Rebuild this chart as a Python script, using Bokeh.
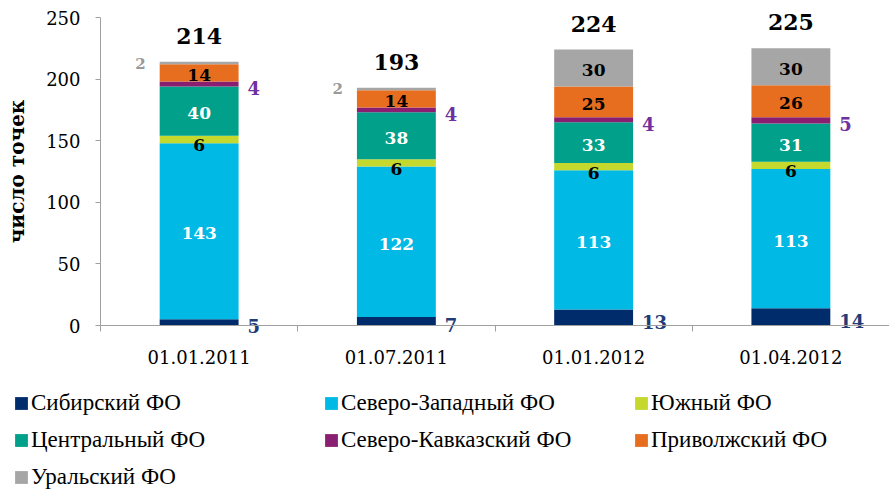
from bokeh.plotting import figure
from bokeh.models import ColumnDataSource, FixedTicker, Legend, LegendItem, Range1d
from bokeh.core.properties import value
from bokeh.embed import file_html
from bokeh.resources import INLINE

dates = ["01.01.2011", "01.07.2011", "01.01.2012", "01.04.2012"]
regions = ["Сибирский ФО", "Северо-Западный ФО", "Южный ФО", "Центральный ФО",
           "Северо-Кавказский ФО", "Приволжский ФО", "Уральский ФО"]
sib = [5, 7, 13, 14]
szfo = [143, 122, 113, 113]
yug = [6, 6, 6, 6]
cfo = [40, 38, 33, 31]
skfo = [4, 4, 4, 5]
pfo = [14, 14, 25, 26]
ural = [2, 2, 30, 30]
y_ticks = [0, 50, 100, 150, 200, 250]

series = [sib, szfo, yug, cfo, skfo, pfo, ural]
keys = ["sib", "szfo", "yug", "cfo", "skfo", "pfo", "ural"]
colors = ["#002C6B", "#00B9E4", "#C4D82E", "#00A08A", "#8A1F72", "#E86E1F", "#A6A6A6"]
inside_colors = [None, "white", "black", "white", None, "black", "black"]

xs = [i + 0.5 for i in range(len(dates))]
BAR_W = 0.4

data = {"x": xs}
for k, s in zip(keys, series):
    data[k] = s
src = ColumnDataSource(data)

# the frame spans the whole canvas; axes are pinned at x=0 / y=0
p = figure(width=889, height=490, output_backend="svg", toolbar_location=None,
           x_range=Range1d(-0.507, 4.0), y_range=Range1d(-133.9, 263.8),
           min_border_left=0, min_border_top=0, min_border_right=0, min_border_bottom=0)
p.outline_line_color = None
p.xgrid.visible = False
p.ygrid.visible = False

rends = p.vbar_stack(keys, x="x", width=BAR_W, color=colors, line_color=None, source=src)

# labels
in_x, in_y, in_t, in_c = [], [], [], []
s_x, s_y, s_t = [], [], []
r_x, r_y, r_t, r_c = [], [], [], []
l_x, l_y, l_t = [], [], []
for j, x in enumerate(xs):
    base = 0
    for i, s in enumerate(series):
        v = s[j]
        mid = base + v / 2
        if i == 0:
            r_x.append(x + BAR_W / 2); r_y.append(mid); r_t.append(str(v)); r_c.append("#1F3C78")
        elif i == 4:
            r_x.append(x + BAR_W / 2); r_y.append(mid); r_t.append(str(v)); r_c.append("#7030A0")
        elif i == 6 and v < 10:
            l_x.append(x - BAR_W / 2); l_y.append(mid); l_t.append(str(v))
        elif i == 2:
            s_x.append(x); s_y.append(mid); s_t.append(str(v))
        else:
            in_x.append(x); in_y.append(mid); in_t.append(str(v)); in_c.append(inside_colors[i])
        base += v

totals = [sum(s[j] for s in series) for j in range(len(dates))]

font = value("DejaVu Serif")
p.text(x=in_x, y=in_y, text=in_t, text_color=in_c, text_font=font, text_font_style="bold",
       text_font_size="17px", text_align="center", text_baseline="middle", y_offset=2)
p.text(x=s_x, y=s_y, text=s_t, text_color="black", text_font=font, text_font_style="bold",
       text_font_size="17px", text_align="center", text_baseline="middle", y_offset=6)
p.text(x=r_x, y=r_y, text=r_t, text_color=r_c, text_font=font, text_font_style="bold",
       text_font_size="18px", text_align="left", text_baseline="middle", x_offset=9, y_offset=4)
p.text(x=l_x, y=l_y, text=l_t, text_color="#999999", text_font=font, text_font_style="bold",
       text_font_size="15px", text_align="right", text_baseline="middle", x_offset=-14)
p.text(x=xs, y=totals, text=[str(t) for t in totals], text_color="black", text_font=font,
       text_font_style="bold", text_font_size="22px", text_align="center", text_baseline="middle",
       y_offset=-26)

# axes
ax = p.yaxis[0]
ax.fixed_location = 0
ax.ticker = FixedTicker(ticks=y_ticks)
ax.bounds = (0, 250)
ax.axis_line_color = "#A0A0A0"
ax.major_tick_line_color = "#A0A0A0"
ax.major_tick_out = 5
ax.major_tick_in = 0
ax.minor_tick_line_color = None
ax.major_label_text_font = "DejaVu Serif"
ax.major_label_text_font_size = "18px"
ax.major_label_text_color = "black"
ax.major_label_standoff = 15
ax.axis_label = "число точек"
ax.axis_label_text_font = "DejaVu Serif"
ax.axis_label_text_font_style = "bold"
ax.axis_label_text_font_size = "20px"
ax.axis_label_text_color = "black"
ax.axis_label_standoff = 14

bx = p.xaxis[0]
bx.fixed_location = 0
bx.bounds = (0, 4)
bx.ticker = FixedTicker(ticks=xs, minor_ticks=[0, 1, 2, 3, 4])
bx.major_label_overrides = {x: d for x, d in zip(xs, dates)}
bx.axis_line_color = "#A0A0A0"
bx.major_tick_line_color = None
bx.major_tick_out = 0
bx.major_tick_in = 0
bx.minor_tick_line_color = "#A0A0A0"
bx.minor_tick_out = 6
bx.minor_tick_in = 0
bx.major_label_text_font = "DejaVu Serif"
bx.major_label_text_font_size = "18px"
bx.major_label_text_color = "black"
bx.major_label_standoff = 18

items = [LegendItem(label=r, renderers=[rd]) for r, rd in zip(regions, rends)]
legend = Legend(items=items, orientation="horizontal", ncols=3, location=(13, 0),
                label_text_font="Liberation Serif", label_text_font_size="23px",
                label_text_color="black", glyph_width=16, glyph_height=16,
                label_standoff=2, label_width=281, label_height=22, spacing=11,
                padding=0, margin=0, border_line_color=None, background_fill_alpha=0)
p.add_layout(legend, "center")

open("out.html", "w").write(file_html(p, INLINE))
